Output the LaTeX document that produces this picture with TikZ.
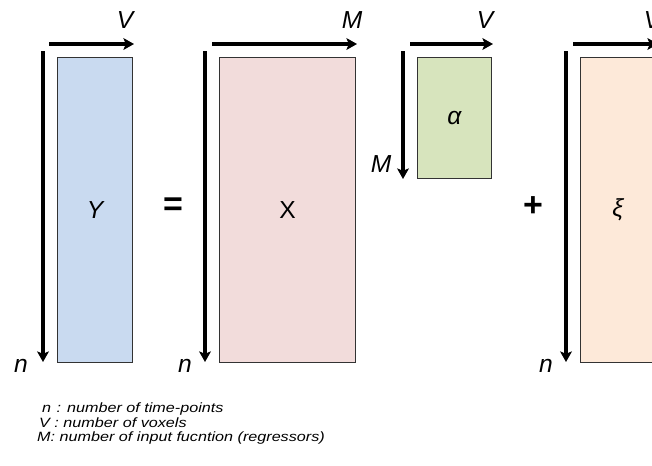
\documentclass[tikz,border=0pt]{standalone}
\usepackage{fontspec}
\setmainfont{Liberation Sans}
\usepackage{xcolor}
\definecolor{MatBlue}{HTML}{C9DAF0}
\definecolor{MatRose}{HTML}{F2DCDB}
\definecolor{MatGreen}{HTML}{D7E4BD}
\definecolor{MatPeach}{HTML}{FDE9D9}
\usepackage{tikz}
\usetikzlibrary{arrows.meta,positioning,calc}

\begin{document}
\begin{tikzpicture}[x=0.03cm,y=-0.03cm,
  mat/.style={draw=black!80,line width=0.8pt,anchor=north west,inner sep=0pt,minimum width=2.25cm,minimum height=9.15cm},
  dimarr/.style={-{Stealth[length=9pt,width=10pt,inset=2pt]},line width=2.6pt},
  dimlab/.style={font=\fontsize{21}{24}\selectfont\itshape},
  sym/.style={font=\fontsize{29}{32}\selectfont\bfseries},
  legend/.style={anchor=west,inner sep=0pt,font=\fontsize{11.5}{12}\selectfont\itshape}
]
  \useasboundingbox (0,0) rectangle (652,465);
  % matrices
  \node[mat,fill=MatBlue] (Ymat) at (57,57) {};
  \node[mat,fill=MatRose,minimum width=4.08cm] (Xmat) at (219,57) {};
  \node[mat,fill=MatGreen,minimum width=2.22cm,minimum height=3.63cm] (Amat) at (417,57) {};
  \node[mat,fill=MatPeach] (Emat) at (580,57) {};
  \node[dimlab] at (Ymat.center) {Y};
  \node[font=\fontsize{21}{24}\selectfont] at (Xmat.center) {X};
  \node[dimlab] at (Amat.center) {α};
  \node[dimlab] at (Emat.center) {ξ};
  % operators
  \node[sym] (eq) at (173,207) {=};
  \node[sym] (plus) at (533,207) {+};
  % dimension arrows
  \coordinate (Yh1) at (49,44);  \coordinate (Yh2) at (134,44);
  \coordinate (Yv1) at (43,51);  \coordinate (Yv2) at (43,362);
  \coordinate (Xh1) at (212,44); \coordinate (Xh2) at (357,44);
  \coordinate (Xv1) at (205,51); \coordinate (Xv2) at (205,362);
  \coordinate (Ah1) at (410,44); \coordinate (Ah2) at (493,44);
  \coordinate (Av1) at (403,51); \coordinate (Av2) at (403,179);
  \coordinate (Eh1) at (573,44); \coordinate (Eh2) at (658,44);
  \coordinate (Ev1) at (566,51); \coordinate (Ev2) at (566,362);
  \draw[dimarr] (Yh1) -- (Yh2);
  \draw[dimarr] (Yv1) -- (Yv2);
  \draw[dimarr] (Xh1) -- (Xh2);
  \draw[dimarr] (Xv1) -- (Xv2);
  \draw[dimarr] (Ah1) -- (Ah2);
  \draw[dimarr] (Av1) -- (Av2);
  \draw[dimarr] (Eh1) -- (Eh2);
  \draw[dimarr] (Ev1) -- (Ev2);
  % labels
  \node[dimlab] at (125,20) {V};
  \node[dimlab] at (352,20) {M};
  \node[dimlab] at (485,20) {V};
  \node[dimlab] at (652,20) {V};
  \node[dimlab] at (381,164) {M};
  \node[dimlab] at (21,366) {n};
  \node[dimlab] at (185,366) {n};
  \node[dimlab] at (546,366) {n};
  % legend
  \node[legend] (lgn) at (42,409) {\scalebox{1.2}[1]{n\,\,: number of time-points}};
  \node[legend] (lgv) at (39,423) {\scalebox{1.2}[1]{V : number of voxels}};
  \node[legend] (lgm) at (37,438) {\scalebox{1.2}[1]{M: number of input fucntion (regressors)}};
\end{tikzpicture}
\end{document}
